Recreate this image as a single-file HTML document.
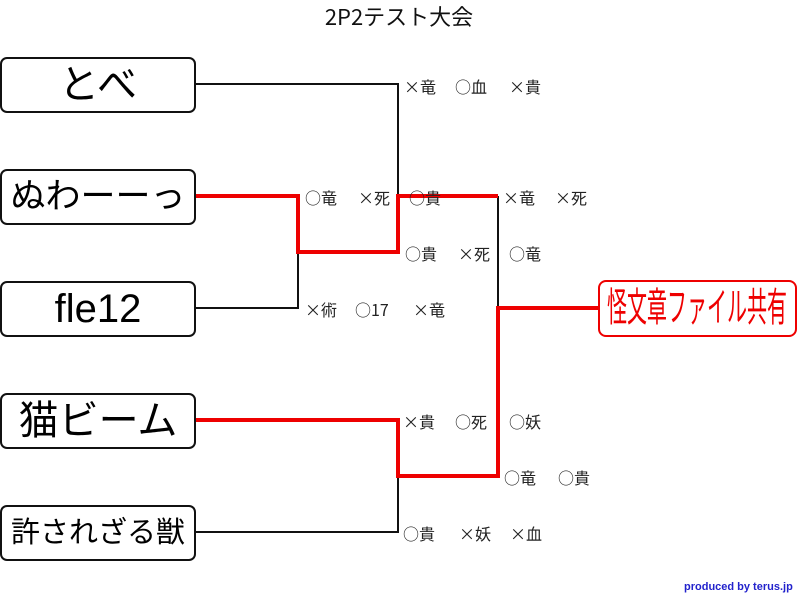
<!DOCTYPE html>
<html><head><meta charset="utf-8"><style>
body{margin:0;width:798px;height:599px;background:#fff;position:relative;overflow:hidden;font-family:"Liberation Sans","Noto Sans CJK JP",sans-serif;}
.box{position:absolute;left:0;width:192px;height:52px;border:2px solid #111;border-radius:7px;background:#fff;text-align:center;line-height:52px;color:#000;white-space:nowrap;overflow:hidden}
.t{position:absolute;font-size:16px;color:#222;line-height:16px;white-space:nowrap;font-family:"Noto Sans CJK JP",sans-serif}
svg{position:absolute;left:0;top:0}
</style></head><body>
<div style="position:absolute;left:0;width:798px;top:1px;text-align:center;font-size:22px;line-height:30px;color:#111;font-family:'Noto Sans CJK JP',sans-serif">2P2テスト大会</div>
<svg width="798" height="599">
<g stroke="#111" stroke-width="2" fill="none">
<polyline points="195,84 398,84 398,252"/>
<polyline points="195,308 298,308 298,252"/>
<polyline points="195,532 398,532 398,476"/>
<polyline points="498,196 498,308"/>
</g>
<g stroke="#ee0000" stroke-width="4" fill="none" stroke-linejoin="miter">
<polyline points="195,196 298,196 298,252 398,252 398,196 498,196"/>
<polyline points="195,420 398,420 398,476 498,476 498,308 598,308"/>
</g>
</svg>
<div class="box" style="top:57px;font-size:40px">とべ</div>
<div class="box" style="top:169px;font-size:35px">ぬわーーっ</div>
<div class="box" style="top:281px;font-size:40px">fle12</div>
<div class="box" style="top:393px;font-size:40px">猫ビーム</div>
<div class="box" style="top:505px;font-size:29px">許されざる獣</div>
<div style="position:absolute;left:598px;top:280px;width:195px;height:53px;border:2px solid #e00;border-radius:8px;background:#fff;overflow:hidden">
<div style="position:absolute;left:-83px;top:3px;width:360px;text-align:center;font-size:40px;line-height:46px;color:#e00;transform:scaleX(0.5);white-space:nowrap">怪文章ファイル共有</div></div>

<div class="t" style="left:404px;top:78px">×竜</div><div class="t" style="left:455px;top:78px">○血</div><div class="t" style="left:509px;top:78px">×貴</div>
<div class="t" style="left:305px;top:189px">○竜</div><div class="t" style="left:358px;top:189px">×死</div><div class="t" style="left:409px;top:189px">○貴</div><div class="t" style="left:503px;top:189px">×竜</div><div class="t" style="left:555px;top:189px">×死</div>
<div class="t" style="left:405px;top:245px">○貴</div><div class="t" style="left:458px;top:245px">×死</div><div class="t" style="left:509px;top:245px">○竜</div>
<div class="t" style="left:305px;top:301px">×術</div><div class="t" style="left:355px;top:301px">○17</div><div class="t" style="left:413px;top:301px">×竜</div>
<div class="t" style="left:403px;top:413px">×貴</div><div class="t" style="left:455px;top:413px">○死</div><div class="t" style="left:509px;top:413px">○妖</div>
<div class="t" style="left:504px;top:469px">○竜</div><div class="t" style="left:558px;top:469px">○貴</div>
<div class="t" style="left:403px;top:525px">○貴</div><div class="t" style="left:459px;top:525px">×妖</div><div class="t" style="left:510px;top:525px">×血</div>
<div style="position:absolute;left:684px;top:581px;font-size:11px;font-weight:bold;color:#2222cc;white-space:nowrap">produced by terus.jp</div>
</body></html>
